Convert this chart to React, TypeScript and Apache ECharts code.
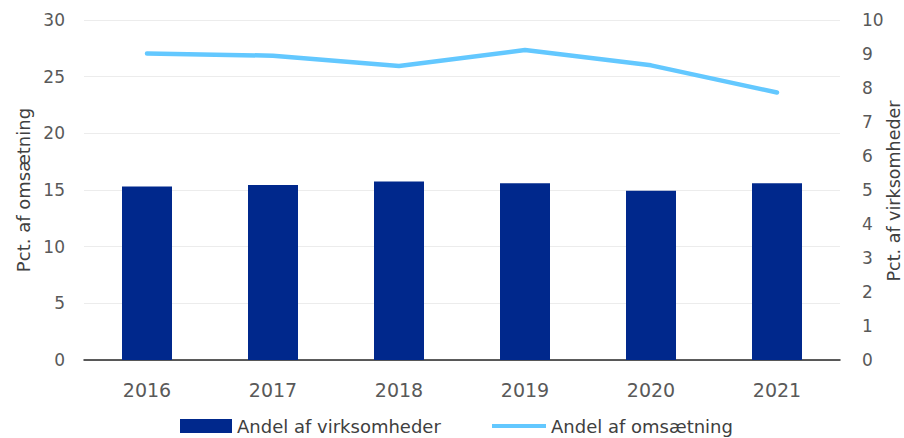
import React, { useEffect, useRef } from "react";
import * as echarts from "echarts";

const years = ["2016", "2017", "2018", "2019", "2020", "2021"];
const andelVirksomheder = [5.1, 5.15, 5.25, 5.2, 4.98, 5.2];
const andelOmsaetning = [27.05, 26.85, 25.95, 27.35, 26.0, 23.6];
const leftTicks = { min: 0, max: 30, interval: 5 };
const rightTicks = { min: 0, max: 10, interval: 1 };
const barName = "Andel af virksomheder";
const lineName = "Andel af omsætning";
const leftTitle = "Pct. af omsætning";
const rightTitle = "Pct. af virksomheder";

export default function App() {
  const ref = useRef<HTMLDivElement>(null);
  useEffect(() => {
    document.body.style.margin = "0";
    const chart = echarts.init(ref.current!, undefined, { renderer: "svg" });
    const tickFont = { fontFamily: "DejaVu Sans", fontSize: 17, color: "#595959" };
    const legendText = { fontFamily: "DejaVu Sans", fontSize: 18, color: "#404040" };
    chart.setOption({
      animation: false,
      grid: { left: 84, right: 64, top: 20, bottom: 78, outerBoundsMode: "none", containLabel: false },
      graphic: [
        {
          type: "text",
          x: 894,
          y: 191,
          rotation: Math.PI / 2,
          style: {
            text: rightTitle,
            fontFamily: "DejaVu Sans",
            fontSize: 17.5,
            fill: "#404040",
            align: "center",
            verticalAlign: "middle",
          },
        },
      ],
      legend: [
        {
          top: 417,
          left: 180,
          padding: 0,
          itemWidth: 52,
          itemHeight: 14,
          textStyle: legendText,
          data: [{ name: barName, icon: "rect" }],
        },
        {
          top: 417,
          left: 492,
          padding: 0,
          itemWidth: 54,
          itemHeight: 4,
          textStyle: legendText,
          data: [{ name: lineName, icon: "rect" }],
        },
      ],
      xAxis: {
        type: "category",
        data: years,
        axisTick: { show: false },
        axisLine: { lineStyle: { color: "#262626", width: 1.5 } },
        axisLabel: { ...tickFont, fontSize: 19, margin: 20 },
      },
      yAxis: [
        {
          type: "value",
          ...leftTicks,
          name: leftTitle,
          nameLocation: "middle",
          nameGap: 52,
          nameTextStyle: { fontFamily: "DejaVu Sans", fontSize: 18, color: "#404040" },
          axisLabel: { ...tickFont, margin: 19 },
          splitLine: { lineStyle: { color: "#ececec", width: 1 } },
          axisLine: { show: false },
          axisTick: { show: false },
        },
        {
          type: "value",
          ...rightTicks,
          axisLabel: { ...tickFont, margin: 22 },
          splitLine: { show: false },
          axisLine: { show: false },
          axisTick: { show: false },
        },
      ],
      series: [
        {
          name: barName,
          type: "bar",
          yAxisIndex: 1,
          data: andelVirksomheder,
          barWidth: 50,
          itemStyle: { color: "#00288C" },
        },
        {
          name: lineName,
          type: "line",
          yAxisIndex: 0,
          data: andelOmsaetning,
          symbol: "none",
          lineStyle: { color: "#63C8FF", width: 4.5, cap: "round", join: "round" },
          itemStyle: { color: "#63C8FF" },
        },
      ],
    });
    return () => chart.dispose();
  }, []);
  return <div ref={ref} style={{ width: 904, height: 438 }} />;
}
